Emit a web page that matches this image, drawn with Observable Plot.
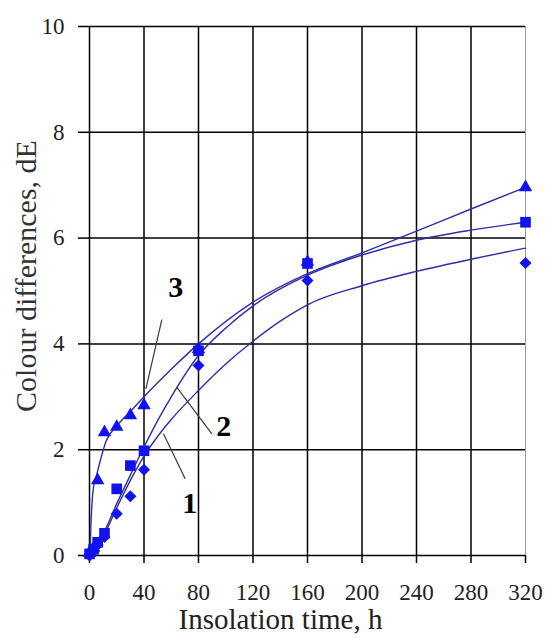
<!DOCTYPE html>
<html>
<head>
<meta charset="utf-8">
<script src="https://cdn.jsdelivr.net/npm/d3@7"></script>
<script src="https://cdn.jsdelivr.net/npm/@observablehq/plot@0.6"></script>
<style>
  html, body { margin: 0; padding: 0; background: #fff; }
  #chart { width: 545px; height: 638px; overflow: hidden; }
</style>
</head>
<body>
<div id="chart"></div>
<script>
// ---- tick values ----
const xTicks = [0, 40, 80, 120, 160, 200, 240, 280, 320];
const yTicks = [0, 2, 4, 6, 8, 10];

// ---- axis titles ----
const xTitle = "Insolation time, h";
const yTitle = "Colour differences, dE";

// ---- measured points (insolation time, h) ----
const hours = [0, 3, 6, 11, 20, 30, 40, 80, 160, 320];
const dE1 = [0.00, 0.08, 0.20, 0.35, 0.79, 1.12, 1.62, 3.59, 5.20, 5.53]; // diamonds
const dE2 = [0.03, 0.12, 0.25, 0.42, 1.26, 1.70, 1.98, 3.87, 5.52, 6.30]; // squares
const dE3 = [0.05, 0.15, 1.42, 2.33, 2.43, 2.65, 2.84, 3.90, 5.55, 6.96]; // triangles

// ---- trend curves ----
const fit1T = [2, 6, 10, 20, 30, 40, 50, 60, 80, 100, 120, 140, 160, 200, 240, 280, 320];
const fit1V = [0.02, 0.18, 0.35, 0.90, 1.42, 1.88, 2.25, 2.57, 3.12, 3.62, 4.05, 4.43, 4.74, 5.10, 5.37, 5.60, 5.81];
const fit2T = [2, 6, 10, 20, 30, 40, 50, 60, 80, 100, 120, 160, 200, 240, 280, 320];
const fit2V = [0.05, 0.20, 0.40, 0.98, 1.52, 2.05, 2.55, 3.00, 3.78, 4.30, 4.72, 5.30, 5.68, 5.96, 6.15, 6.30];
const fit3T = [0.3, 1, 2, 3, 5, 8, 12, 20, 30, 40, 60, 80, 120, 160, 200, 240, 280, 320];
const fit3V = [0.00, 0.55, 1.05, 1.30, 1.50, 1.80, 2.15, 2.45, 2.72, 3.00, 3.52, 4.00, 4.79, 5.33, 5.72, 6.13, 6.55, 6.96];

// ---- curve number labels and their leader lines ----
const curveNames = ["1", "2", "3"];
const nameT = [73.5, 98.5, 63.3];
const nameV = [0.99, 2.45, 5.07];
const leadT1 = [70.2, 89.8, 53.1];
const leadV1 = [1.45, 2.30, 4.46];
const leadT2 = [54.3, 64.1, 41.4];
const leadV2 = [2.30, 3.18, 3.15];

// ---- build tables ----
const pts = (vals) => hours.map((t, i) => ({t, v: vals[i]}));
const fit = (T, V) => T.map((t, i) => ({t, v: V[i]}));
const names = curveNames.map((n, i) => ({n, t: nameT[i], v: nameV[i]}));
const leaders = curveNames.map((n, i) => ({x1: leadT1[i], y1: leadV1[i], x2: leadT2[i], y2: leadV2[i]}));

const lineColor = "#2e2ea6";
const markColor = "#1212ee";

const chart = Plot.plot({
  width: 545,
  height: 638,
  marginLeft: 89,
  marginRight: 20,
  marginTop: 26,
  marginBottom: 83,
  style: {
    fontFamily: "'Liberation Serif', 'Times New Roman', serif",
    fontSize: "23px",
    color: "#000",
    background: "#fff",
    overflow: "visible"
  },
  x: {domain: [0, 320], ticks: xTicks, tickSize: 8, tickPadding: 20, label: null},
  y: {domain: [0, 10], ticks: yTicks, tickSize: 11, tickPadding: 14, label: null},
  marks: [
    Plot.ruleY(yTicks, {stroke: "#000", strokeWidth: 1.5}),
    Plot.ruleX(xTicks, {stroke: d => d === 320 ? "#9a9a9a" : "#000", strokeWidth: d => d === 320 ? 1 : 1.5}),
    Plot.line(fit(fit1T, fit1V), {x: "t", y: "v", curve: "monotone-x", stroke: lineColor, strokeWidth: 1.4}),
    Plot.line(fit(fit2T, fit2V), {x: "t", y: "v", curve: "monotone-x", stroke: lineColor, strokeWidth: 1.4}),
    Plot.line(fit(fit3T, fit3V), {x: "t", y: "v", curve: "monotone-x", stroke: lineColor, strokeWidth: 1.4}),
    Plot.dot(pts(dE3), {x: "t", y: "v", symbol: "triangle", r: 5, fill: markColor}),
    Plot.dot(pts(dE1), {x: "t", y: "v", symbol: "diamond2", r: 5.4, fill: markColor}),
    Plot.dot(pts(dE2), {x: "t", y: "v", symbol: "square", r: 6, fill: markColor}),
    Plot.link(leaders, {x1: "x1", y1: "y1", x2: "x2", y2: "y2", stroke: "#3a3a3a", strokeWidth: 1.2}),
    Plot.text(names, {x: "t", y: "v", text: "n", fontSize: 30, fontWeight: "bold", fill: "#000"}),
    Plot.text([xTitle], {frameAnchor: "bottom", textAnchor: "middle", lineAnchor: "middle", dx: -27, dy: 64, fontSize: 29, fill: "#222"}),
    Plot.text([yTitle], {frameAnchor: "left", textAnchor: "middle", lineAnchor: "middle", rotate: -90, dx: -63, dy: -15, fontSize: 30, fill: "#333"})
  ]
});

chart.querySelectorAll('g[aria-label="x-axis tick"], g[aria-label="y-axis tick"]').forEach(g => {
  g.setAttribute("stroke-width", "1.5");
  g.setAttribute("stroke", "#000");
});
chart.querySelectorAll('g[aria-label="x-axis tick label"], g[aria-label="y-axis tick label"]').forEach(g => {
  g.setAttribute("fill", "#222");
});
document.getElementById("chart").appendChild(chart);
</script>
</body>
</html>
